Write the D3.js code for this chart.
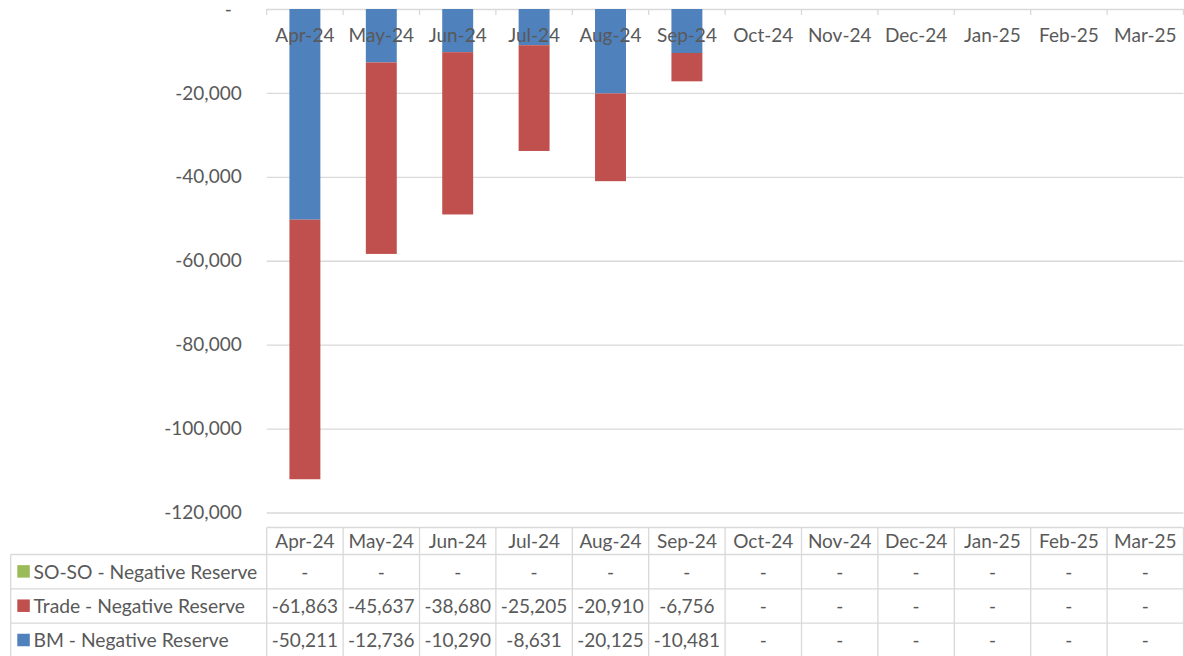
<!DOCTYPE html>
<html>
<head>
<meta charset="utf-8">
<script src="https://cdn.jsdelivr.net/npm/d3@7"></script>
<style>
  body { margin: 0; background: #fff; }
  text { font-family: Lato, "Open Sans", sans-serif; fill: #595959; }
</style>
</head>
<body>
<script>
var months = ['Apr-24', 'May-24', 'Jun-24', 'Jul-24', 'Aug-24', 'Sep-24',
              'Oct-24', 'Nov-24', 'Dec-24', 'Jan-25', 'Feb-25', 'Mar-25'];
var sosoValues  = [0, 0, 0, 0, 0, 0, null, null, null, null, null, null];
var tradeValues = [-61863, -45637, -38680, -25205, -20910, -6756, null, null, null, null, null, null];
var bmValues    = [-50211, -12736, -10290, -8631, -20125, -10481, null, null, null, null, null, null];
var yTicks = [0, -20000, -40000, -60000, -80000, -100000, -120000];

var series = [
  {key: 'BM - Negative Reserve', values: bmValues, color: '#4f81bd'},
  {key: 'Trade - Negative Reserve', values: tradeValues, color: '#c0504d'},
  {key: 'SO-SO - Negative Reserve', values: sosoValues, color: '#9bbb59'}
];

var width = 1184, height = 656;
var plot = {left: 266.7, right: 1183.5, top: 9, bottom: 512.5};
var rowTop = 527.5, headH = 27, rowH = 34.3, tableLeft = 10.7;

var fmt = d3.formatLocale({decimal: '.', thousands: ',', grouping: [3], currency: ['', ''], minus: '-'}).format(',');
function label(v) { return (v == null || v === 0) ? '-' : fmt(v); }

var svg = d3.select('body').append('svg')
    .attr('width', width)
    .attr('height', height);

var x = d3.scaleBand().domain(months).range([plot.left, plot.right]);
var y = d3.scaleLinear().domain([0, -120000]).range([plot.top, plot.bottom]);
var barW = x.bandwidth() * 0.405;

// gridlines + y labels
var yAxis = svg.append('g')
    .attr('transform', 'translate(' + plot.left + ',0)')
    .call(d3.axisLeft(y).tickValues(yTicks).tickSize(-(plot.right - plot.left))
      .tickPadding(25).tickFormat(label));
yAxis.select('.domain').remove();
yAxis.selectAll('line').attr('stroke', '#d9d9d9').attr('stroke-width', 1.3);
yAxis.selectAll('text').style('font-size', '19px').attr('fill', '#595959');
yAxis.selectAll('.tick').filter(function(d) { return d === 0; })
    .select('text').attr('dx', -10);

// category boundary ticks on zero line
var bounds = months.map(function(m) { return x(m); }).concat([plot.right]);
svg.append('g').selectAll('line')
    .data(bounds)
  .enter().append('line')
    .attr('x1', function(d) { return d; })
    .attr('x2', function(d) { return d; })
    .attr('y1', y(0))
    .attr('y2', y(0) + 6)
    .attr('stroke', '#d9d9d9')
    .attr('stroke-width', 1.3);

// stacked bars (diverging, so negatives stack down from zero)
var rows = months.map(function(m, i) {
  var r = {month: m};
  series.forEach(function(s) { r[s.key] = s.values[i] || 0; });
  return r;
});
var stack = d3.stack()
    .keys(series.map(function(s) { return s.key; }))
    .offset(d3.stackOffsetDiverging);
var layers = stack(rows);

svg.append('g').selectAll('g')
    .data(layers)
  .enter().append('g')
    .attr('fill', function(d, i) { return series[i].color; })
  .selectAll('rect')
    .data(function(d) { return d; })
  .enter().append('rect')
    .attr('x', function(d) { return x(d.data.month) + (x.bandwidth() - barW) / 2; })
    .attr('width', barW)
    .attr('y', function(d) { return Math.min(y(d[0]), y(d[1])); })
    .attr('height', function(d) { return Math.abs(y(d[0]) - y(d[1])); });

// category labels inside plot
svg.append('g').selectAll('text')
    .data(months)
  .enter().append('text')
    .attr('x', function(d) { return x(d) + x.bandwidth() / 2; })
    .attr('y', 42)
    .attr('text-anchor', 'middle')
    .style('font-size', '19px')
    .text(function(d) { return d; });

// data table
var table = svg.append('g');
var tableRows = series.slice().reverse();
var tableBottom = rowTop + headH + tableRows.length * rowH + 2;
var gridColor = '#d9d9d9';

// horizontal lines
table.append('line')
    .attr('x1', plot.left).attr('x2', plot.right)
    .attr('y1', rowTop).attr('y2', rowTop)
    .attr('stroke', gridColor).attr('stroke-width', 1.3);
table.selectAll('.hline')
    .data(tableRows.map(function(d, i) { return rowTop + headH + i * rowH; }))
  .enter().append('line')
    .attr('x1', tableLeft).attr('x2', plot.right)
    .attr('y1', function(d) { return d; }).attr('y2', function(d) { return d; })
    .attr('stroke', gridColor).attr('stroke-width', 1.3);

// vertical lines
table.selectAll('.vline')
    .data(bounds)
  .enter().append('line')
    .attr('x1', function(d) { return d; }).attr('x2', function(d) { return d; })
    .attr('y1', rowTop).attr('y2', tableBottom)
    .attr('stroke', gridColor).attr('stroke-width', 1.3);
table.append('line')
    .attr('x1', tableLeft).attr('x2', tableLeft)
    .attr('y1', rowTop + headH).attr('y2', tableBottom)
    .attr('stroke', gridColor).attr('stroke-width', 1.3);

// header labels
table.selectAll('.head')
    .data(months)
  .enter().append('text')
    .attr('x', function(d) { return x(d) + x.bandwidth() / 2; })
    .attr('y', rowTop + headH / 2 + 7)
    .attr('text-anchor', 'middle')
    .style('font-size', '19px')
    .text(function(d) { return d; });

// legend + values
var tr = table.selectAll('.row')
    .data(tableRows)
  .enter().append('g')
    .attr('transform', function(d, i) { return 'translate(0,' + (rowTop + headH + i * rowH) + ')'; });

tr.append('rect')
    .attr('x', 17.3).attr('y', rowH / 2 - 6.5)
    .attr('width', 12.5).attr('height', 12.5)
    .attr('fill', function(d) { return d.color; });
tr.append('text')
    .attr('x', 33.5).attr('y', rowH / 2 + 7)
    .style('font-size', '19.3px')
    .text(function(d) { return d.key; });
tr.selectAll('.val')
    .data(function(d) { return d.values; })
  .enter().append('text')
    .attr('x', function(d, i) { return x(months[i]) + x.bandwidth() / 2; })
    .attr('y', rowH / 2 + 7)
    .attr('text-anchor', 'middle')
    .style('font-size', '19px')
    .text(function(d) { return label(d); });
</script>
</body>
</html>
